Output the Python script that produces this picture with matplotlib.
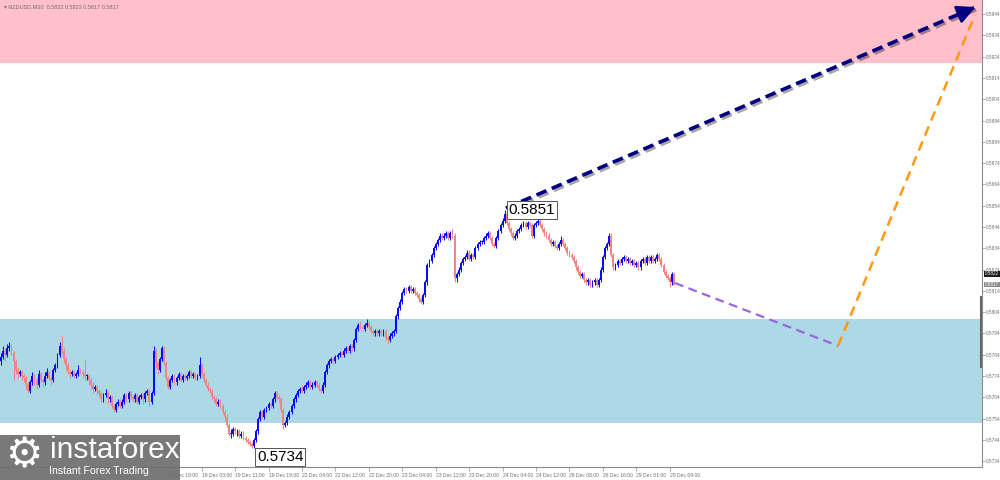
import numpy as np
import matplotlib.pyplot as plt
from matplotlib import patheffects as pe

# === DATEN (Preise in Pips, 0.5783 -> 5783) ===
first_open = 5781

closes = [
    5783, 5786, 5784, 5787, 5788, 5785, 5781, 5777, 5775, 5776,
    5774, 5773, 5770, 5767, 5771, 5774, 5772, 5770, 5775, 5772,
    5771, 5774, 5776, 5773, 5772, 5777, 5779, 5784, 5788, 5786,
    5782, 5779, 5776, 5775, 5776, 5774, 5775, 5777, 5776, 5775,
    5774, 5774, 5772, 5770, 5768, 5769, 5767, 5766, 5763, 5765,
    5766, 5763, 5764, 5760, 5758, 5761, 5762, 5760, 5762, 5765,
    5763, 5766, 5764, 5763, 5765, 5762, 5764, 5765, 5763, 5766,
    5767, 5762, 5766, 5786, 5780, 5777, 5782, 5787, 5780, 5773,
    5769, 5772, 5774, 5771, 5773, 5775, 5772, 5774, 5773, 5774,
    5776, 5774, 5775, 5773, 5774, 5779, 5775, 5772, 5770, 5768,
    5767, 5764, 5763, 5761, 5762, 5760, 5757, 5755, 5751, 5747,
    5747, 5749, 5748, 5748, 5746, 5747, 5745, 5744, 5743, 5742,
    5741, 5744, 5748, 5754, 5757, 5755, 5758, 5759, 5761, 5760,
    5763, 5766, 5764, 5763, 5758, 5751, 5752, 5755, 5757, 5760,
    5763, 5765, 5767, 5768, 5767, 5769, 5770, 5771, 5769, 5770,
    5771, 5770, 5768, 5767, 5770, 5776, 5779, 5781, 5782, 5781,
    5783, 5784, 5785, 5784, 5786, 5787, 5786, 5788, 5787, 5791,
    5796, 5798, 5797, 5796, 5798, 5799, 5797, 5795, 5794, 5795,
    5794, 5795, 5794, 5795, 5792, 5791, 5793, 5794, 5795, 5802,
    5806, 5809, 5813, 5815, 5814, 5816, 5814, 5815, 5813, 5812,
    5810, 5809, 5812, 5818, 5826, 5828, 5831, 5834, 5836, 5838,
    5840, 5839, 5840, 5841, 5839, 5841, 5840, 5820, 5822, 5824,
    5827, 5829, 5830, 5832, 5829, 5831, 5830, 5834, 5836, 5837,
    5837, 5839, 5840, 5841, 5839, 5836, 5835, 5839, 5842, 5845,
    5847, 5850, 5846, 5843, 5841, 5839, 5840, 5842, 5843, 5845,
    5846, 5844, 5846, 5845, 5840, 5845, 5846, 5847, 5845, 5843,
    5841, 5840, 5838, 5836, 5837, 5835, 5834, 5836, 5838, 5836,
    5834, 5832, 5831, 5830, 5828, 5825, 5823, 5821, 5822, 5819,
    5818, 5819, 5817, 5818, 5819, 5817, 5819, 5824, 5830, 5834,
    5836, 5840, 5831, 5825, 5826, 5828, 5827, 5829, 5830, 5828,
    5829, 5827, 5828, 5826, 5827, 5825, 5828, 5829, 5827, 5830,
    5828, 5830, 5828, 5829, 5831, 5829, 5826, 5823, 5821, 5820,
    5818, 5822, 5817,
]

highs = [
    5785, 5788, 5787, 5789, 5790, 5789, 5786, 5782, 5778, 5777,
    5777, 5775, 5774, 5771, 5772, 5776, 5775, 5773, 5777, 5776,
    5773, 5776, 5778, 5777, 5774, 5778, 5780, 5785, 5790, 5793,
    5787, 5783, 5780, 5777, 5777, 5777, 5776, 5779, 5778, 5777,
    5782, 5775, 5775, 5773, 5771, 5770, 5770, 5768, 5767, 5766,
    5768, 5767, 5765, 5765, 5761, 5762, 5763, 5763, 5763, 5766,
    5766, 5767, 5767, 5765, 5766, 5766, 5765, 5766, 5766, 5767,
    5768, 5768, 5767, 5788, 5787, 5781, 5783, 5788, 5788, 5781,
    5774, 5773, 5775, 5775, 5774, 5776, 5776, 5775, 5775, 5775,
    5777, 5777, 5776, 5776, 5775, 5783, 5780, 5776, 5773, 5771,
    5769, 5768, 5765, 5764, 5763, 5763, 5761, 5758, 5756, 5752,
    5749, 5750, 5750, 5749, 5749, 5748, 5748, 5746, 5745, 5744,
    5743, 5745, 5749, 5755, 5758, 5758, 5759, 5760, 5762, 5762,
    5764, 5767, 5767, 5765, 5764, 5759, 5753, 5756, 5758, 5761,
    5764, 5766, 5768, 5769, 5770, 5770, 5771, 5772, 5772, 5771,
    5772, 5772, 5771, 5769, 5771, 5777, 5780, 5782, 5783, 5783,
    5784, 5785, 5786, 5786, 5787, 5788, 5788, 5789, 5789, 5792,
    5797, 5799, 5800, 5798, 5799, 5801, 5800, 5798, 5796, 5796,
    5796, 5796, 5796, 5796, 5796, 5793, 5794, 5795, 5796, 5803,
    5807, 5810, 5814, 5816, 5816, 5817, 5817, 5816, 5816, 5814,
    5813, 5811, 5813, 5819, 5827, 5829, 5832, 5835, 5837, 5839,
    5841, 5841, 5841, 5842, 5842, 5842, 5843, 5841, 5823, 5825,
    5828, 5830, 5831, 5833, 5833, 5832, 5832, 5835, 5837, 5838,
    5838, 5840, 5841, 5842, 5842, 5840, 5837, 5840, 5843, 5846,
    5848, 5852, 5851, 5847, 5844, 5842, 5841, 5843, 5844, 5846,
    5847, 5847, 5847, 5847, 5846, 5846, 5847, 5848, 5848, 5846,
    5844, 5842, 5841, 5839, 5838, 5838, 5836, 5837, 5840, 5839,
    5837, 5835, 5833, 5832, 5831, 5829, 5826, 5824, 5823, 5823,
    5820, 5820, 5820, 5819, 5820, 5820, 5820, 5825, 5831, 5835,
    5837, 5841, 5841, 5832, 5827, 5829, 5829, 5830, 5831, 5831,
    5830, 5830, 5829, 5829, 5828, 5828, 5829, 5830, 5830, 5831,
    5831, 5831, 5831, 5830, 5832, 5832, 5830, 5827, 5824, 5822,
    5821, 5823, 5823,
]

lows = [
    5779, 5782, 5781, 5783, 5786, 5784, 5772, 5775, 5773, 5774,
    5772, 5771, 5768, 5766, 5766, 5770, 5770, 5768, 5769, 5771,
    5769, 5770, 5773, 5772, 5770, 5771, 5776, 5778, 5783, 5785,
    5780, 5777, 5775, 5773, 5774, 5773, 5773, 5774, 5775, 5773,
    5772, 5772, 5770, 5768, 5766, 5767, 5765, 5764, 5762, 5762,
    5764, 5761, 5762, 5759, 5757, 5757, 5760, 5759, 5759, 5761,
    5762, 5762, 5763, 5762, 5762, 5761, 5761, 5763, 5761, 5762,
    5765, 5760, 5761, 5765, 5778, 5775, 5776, 5781, 5779, 5772,
    5768, 5768, 5771, 5770, 5770, 5772, 5771, 5771, 5772, 5772,
    5773, 5773, 5773, 5772, 5772, 5773, 5774, 5771, 5769, 5767,
    5766, 5763, 5762, 5760, 5760, 5759, 5756, 5753, 5750, 5746,
    5745, 5746, 5747, 5746, 5745, 5745, 5744, 5743, 5742, 5741,
    5740, 5740, 5743, 5747, 5753, 5754, 5754, 5757, 5758, 5759,
    5759, 5762, 5763, 5762, 5757, 5749, 5750, 5751, 5754, 5756,
    5759, 5762, 5764, 5766, 5766, 5766, 5768, 5769, 5768, 5768,
    5769, 5769, 5767, 5766, 5766, 5769, 5775, 5778, 5780, 5780,
    5780, 5782, 5783, 5783, 5783, 5785, 5785, 5785, 5786, 5786,
    5790, 5795, 5796, 5795, 5795, 5797, 5796, 5794, 5793, 5793,
    5793, 5793, 5793, 5793, 5791, 5789, 5790, 5792, 5793, 5794,
    5801, 5805, 5808, 5812, 5813, 5813, 5813, 5813, 5812, 5811,
    5809, 5808, 5808, 5811, 5817, 5825, 5827, 5830, 5833, 5835,
    5837, 5838, 5838, 5839, 5838, 5838, 5839, 5818, 5818, 5821,
    5823, 5826, 5828, 5829, 5828, 5828, 5829, 5829, 5833, 5835,
    5836, 5836, 5838, 5839, 5838, 5835, 5834, 5834, 5838, 5841,
    5844, 5846, 5845, 5842, 5840, 5838, 5838, 5839, 5841, 5842,
    5844, 5843, 5843, 5844, 5839, 5839, 5844, 5845, 5844, 5842,
    5840, 5839, 5837, 5835, 5835, 5834, 5833, 5833, 5835, 5835,
    5833, 5831, 5830, 5829, 5827, 5824, 5822, 5820, 5820, 5818,
    5817, 5817, 5816, 5816, 5817, 5816, 5816, 5818, 5823, 5829,
    5833, 5835, 5830, 5824, 5824, 5825, 5826, 5826, 5828, 5827,
    5827, 5826, 5826, 5825, 5825, 5824, 5824, 5827, 5826, 5826,
    5827, 5827, 5827, 5827, 5828, 5828, 5825, 5822, 5820, 5819,
    5816, 5817, 5817,
]

# Zeitachse (alle 16 Kerzen eine Beschriftung)
time_labels = [
    "17 Dec 03:00", "17 Dec 11:00", "17 Dec 19:00", "18 Dec 03:00", "18 Dec 11:00",
    "18 Dec 19:00", "19 Dec 03:00", "19 Dec 11:00", "19 Dec 19:00", "22 Dec 04:00",
    "22 Dec 12:00", "22 Dec 20:00", "23 Dec 04:00", "23 Dec 12:00", "23 Dec 20:00",
    "24 Dec 04:00", "24 Dec 12:00", "26 Dec 08:00", "26 Dec 16:00", "29 Dec 01:00",
    "29 Dec 09:00",
]
bars_per_label = 16
hidden_by_logo = 5   # die ersten Beschriftungen liegen unter dem Logo

# Zonen (Preis)
resist_zone = (0.5921, 0.5960)
support_zone = (0.5752, 0.5801)

# Wellen-Prognose: (Kerzenindex, Preis)
main_arrow_x = [241.6, 467.5]
main_arrow_y = [0.58529, 0.59478]
wave_x = [322.5, 400.5, 466.0]
wave_y = [0.58177, 0.57882, 0.59436]

# Extrempunkte mit Beschriftung
marks = [(243.0, 0.5852, "0.5851"), (122.5, 0.5736, "0.5734")]

# Preisschilder rechts
bid_ask = [0.5822, 0.5817]

# === PLOT ===
o = np.r_[first_open, closes[:-1]] / 1e4
c = np.array(closes) / 1e4
h = np.array(highs) / 1e4
l = np.array(lows) / 1e4
idx = np.arange(len(c))

fig = plt.figure(figsize=(10, 4.8), dpi=100)
ax = fig.add_axes([0, 1 - 467 / 480, 0.982, 467 / 480])
ax.set_xlim(-0.5, 469.4)
ax.set_ylim(0.57313, 0.59506)

ax.axhspan(*resist_zone, color='#ffc0cb', lw=0, zorder=0)
ax.axhspan(*support_zone, color='#add8e6', lw=0, zorder=0)

col = np.where(c >= o, '#0a0aff', '#f08585')
ax.vlines(idx, l, h, colors=col, lw=0.75, zorder=2)
ax.bar(idx, np.maximum(np.abs(c - o), 0.00003), bottom=np.minimum(o, c),
       width=0.9, color=col, lw=0, zorder=3)

# Prognoselinien
shadow = [pe.SimpleLineShadow(offset=(1.5, -1.5), alpha=0.35), pe.Normal()]
ax.plot(wave_x[:2], wave_y[:2], ls=(0, (4, 2.5)), color='#9a66dd', lw=1.6, zorder=4)
ax.plot(wave_x[1:], wave_y[1:], ls=(0, (4, 2.5)), color='#ff9a10', lw=1.8, zorder=4)
ax.plot(main_arrow_x, main_arrow_y, ls=(0, (3, 1.6)), color='#000080', lw=2.6,
        zorder=5, path_effects=shadow, solid_capstyle='butt')
ax.annotate('', xy=(main_arrow_x[1], main_arrow_y[1]),
            xytext=(main_arrow_x[1] - 9, main_arrow_y[1] - 0.00038),
            arrowprops=dict(arrowstyle='-|>,head_length=1.1,head_width=0.55',
                            color='#000080', lw=2.0), zorder=6)

for mx, my, txt in marks:
    ax.text(mx, my, txt, fontsize=11, family='Liberation Sans', ha='left', va='center',
            zorder=7, clip_on=False,
            bbox=dict(boxstyle='square,pad=0.12', fc='white', ec='#555555', lw=0.7))

# Achsen
for s in ['left', 'top']:
    ax.spines[s].set_visible(False)
for s in ['right', 'bottom']:
    ax.spines[s].set_color('#8c8c8c')
    ax.spines[s].set_linewidth(0.8)

yt = np.arange(5734, 5945, 10) / 1e4
ax.yaxis.tick_right()
ax.set_yticks(yt)
ax.set_yticklabels([f"{v:.4f}" for v in yt], fontsize=3.4, color='#707070',
                   family='Liberation Sans')
ax.tick_params(axis='y', length=2, width=0.5, color='#8c8c8c', pad=1)

xt = np.arange(len(time_labels)) * bars_per_label
shown = ['' if k < hidden_by_logo else t for k, t in enumerate(time_labels)]
ax.set_xticks(xt)
ax.set_xticklabels(shown, fontsize=3.6, color='#707070', ha='left',
                   family='Liberation Sans')
ax.tick_params(axis='x', length=3, width=0.5, color='#8c8c8c', pad=1.5)

# Kopfzeile
fig.text(0.004, 0.992, "\u25be NZDUSD,M30  0.5822 0.5823 0.5817 0.5817", fontsize=4,
         color='#707070', va='top', ha='left', family=['Liberation Sans', 'DejaVu Sans'])

# Preisschilder rechts
for price, fc in zip(bid_ask, ['#1a1a1a', '#8a8a8a']):
    ax.text(1.003, price, f"{price:.4f}", transform=ax.get_yaxis_transform(),
            fontsize=3.3, color='white', va='center', ha='left', family='Liberation Sans',
            clip_on=False, bbox=dict(boxstyle='square,pad=0.1', fc=fc, ec='none'))
fig.add_artist(plt.Line2D([0.981, 0.981], [1 - 367 / 480, 1 - 297 / 480],
                          color='#666666', lw=1.5, transform=fig.transFigure))

# Logo
fig.patches.append(plt.Rectangle((0, 0), 180 / 1000, 45 / 480, transform=fig.transFigure,
                                 fc='#6e6e6e', ec='none', alpha=0.92, zorder=10))
fig.text(24 / 1000, 1 - 455 / 480, "\u2699", fontsize=30, color='white', ha='center',
         va='center', zorder=11)
fig.text(50 / 1000, 1 - 450 / 480, "instaforex", fontsize=21.5, color='white',
         family='Liberation Sans', ha='left', va='center', zorder=11)
fig.text(49 / 1000, 1 - 471 / 480, "Instant Forex Trading", fontsize=7.6, color='white',
         family='Liberation Sans', ha='left', va='center', zorder=11)

fig.savefig('out.png', dpi=100)
